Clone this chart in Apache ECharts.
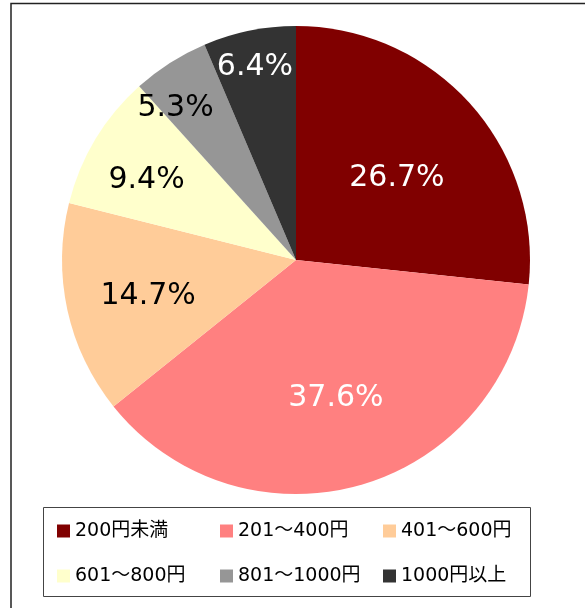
<!DOCTYPE html>
<html>
<head>
<meta charset="utf-8">
<script src="https://cdn.jsdelivr.net/npm/echarts@6/dist/echarts.min.js"></script>
<style>
html,body{margin:0;padding:0;background:#fff;}
#chart{width:585px;height:608px;}
</style>
</head>
<body>
<div id="chart"></div>
<script>
const categories = ['200円未満', '201～400円', '401～600円', '601～800円', '801～1000円', '1000円以上'];
const values = [26.7, 37.6, 14.7, 9.4, 5.3, 6.4];
const colors = ['#800000', '#FF8080', '#FFCC99', '#FFFFCC', '#969696', '#333333'];
const labelColors = ['#ffffff', '#ffffff', '#000000', '#000000', '#000000', '#ffffff'];
// label placement styles: distance from centre (fraction of radius) and angular nudge (degrees, clockwise)
const labelRadiusFrac = [0.541, 0.603, 0.638, 0.712, 0.815, 0.83];
const labelAngleNudge = [3.1, 0.3, -1.5, -2.8, -5.9, -0.5];

const FONT = '"DejaVu Sans", "Noto Sans CJK JP", sans-serif';
const R = 234;
const CENTER = [296, 260];

const series = [{
  type: 'pie',
  name: 'main',
  center: CENTER,
  radius: [0, R],
  startAngle: 90,
  clockwise: true,
  silent: true,
  label: { show: false },
  labelLine: { show: false },
  emphasis: { disabled: true },
  data: categories.map((c, i) => ({ name: c, value: values[i], itemStyle: { color: colors[i] } }))
}];

categories.forEach((c, idx) => {
  series.push({
    type: 'pie',
    center: CENTER,
    radius: [0, 2 * R * labelRadiusFrac[idx]],
    startAngle: 90 - labelAngleNudge[idx],
    clockwise: true,
    silent: true,
    z: 5,
    emphasis: { disabled: true },
    labelLine: { show: false },
    itemStyle: { color: 'rgba(0,0,0,0)' },
    data: categories.map((cc, i) => ({
      name: cc,
      value: values[i],
      itemStyle: { color: 'rgba(0,0,0,0)' },
      label: {
        show: i === idx,
        position: 'inside',
        formatter: values[i].toFixed(1) + '%',
        color: labelColors[i],
        fontSize: 30,
        fontFamily: FONT
      }
    }))
  });
});

const chart = echarts.init(document.getElementById('chart'), null, { renderer: 'canvas' });
chart.setOption({
  backgroundColor: '#ffffff',
  animation: false,
  color: colors,
  legend: {
    data: categories.map((c, i) => ({ name: c, itemStyle: { color: colors[i] } })),
    left: 57,
    top: 516,
    width: 480,
    padding: 0,
    orient: 'horizontal',
    icon: 'rect',
    itemWidth: 13,
    itemHeight: 13,
    itemGap: 15,
    selectedMode: false,
    textStyle: {
      fontSize: 19,
      fontFamily: FONT,
      color: '#000',
      width: 130,
      lineHeight: 30,
      overflow: 'none'
    }
  },
  graphic: [
    {
      type: 'polyline',
      shape: { points: [[11, 608], [11, 3.5], [585, 3.5]] },
      style: { stroke: '#222', lineWidth: 1.5, fill: null },
      silent: true
    },
    {
      type: 'rect',
      shape: { x: 43.5, y: 507.5, width: 487, height: 89 },
      style: { stroke: '#444', lineWidth: 1, fill: null },
      silent: true
    }
  ],
  series: series
});
</script>
</body>
</html>
